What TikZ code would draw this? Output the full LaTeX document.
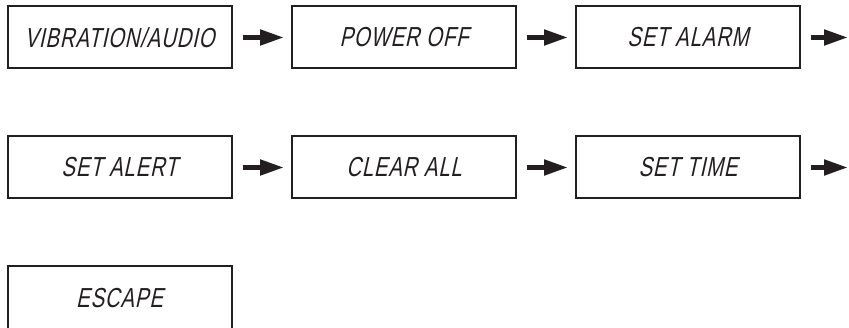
\documentclass[tikz,border=0pt]{standalone}
\usepackage{fontspec}
\usetikzlibrary{arrows.meta}
% slanted, narrowed sans standing in for a segment-display face
\newfontfamily\lcdfont[FakeStretch=0.74,FakeSlant=0.22,LetterSpace=3]{Liberation Sans}
\definecolor{ink}{HTML}{231F20}
\tikzset{
  menubox/.style={draw=ink, line width=2pt, minimum width=224pt, minimum height=62pt,
    inner sep=0pt, font=\lcdfont\fontsize{27.5}{30}\selectfont, text=ink},
  nextarrow/.style={draw=ink, line width=5pt,
    -{Triangle[length=24pt,width=15pt]}, shorten <=10pt, shorten >=7pt}
}
\begin{document}
\begin{tikzpicture}[x=1pt,y=-1pt]
  \useasboundingbox (0,0) rectangle (849,328);
  % first row
  \node[menubox] (vib)   at (119.5,37.5) {VIBRATION/AUDIO};
  \node[menubox] (power) at (404,37.5)   {POWER OFF};
  \node[menubox] (alarm) at (688,37.5)   {SET ALARM};
  \coordinate (out1) at (855,37.5);
  % second row
  \node[menubox] (alert) at (119.5,167.5) {SET ALERT};
  \node[menubox] (clear) at (404,167.5)   {CLEAR ALL};
  \node[menubox] (time)  at (688,167.5)   {SET TIME};
  \coordinate (out2) at (855,167.5);
  % last entry
  \node[menubox, minimum height=64pt] (esc) at (119.5,298) {ESCAPE};
  % arrows between entries
  \draw[nextarrow] (vib) -- (power);
  \draw[nextarrow] (power) -- (alarm);
  \draw[nextarrow] (alarm) -- (out1);
  \draw[nextarrow] (alert) -- (clear);
  \draw[nextarrow] (clear) -- (time);
  \draw[nextarrow] (time) -- (out2);
\end{tikzpicture}
\end{document}
